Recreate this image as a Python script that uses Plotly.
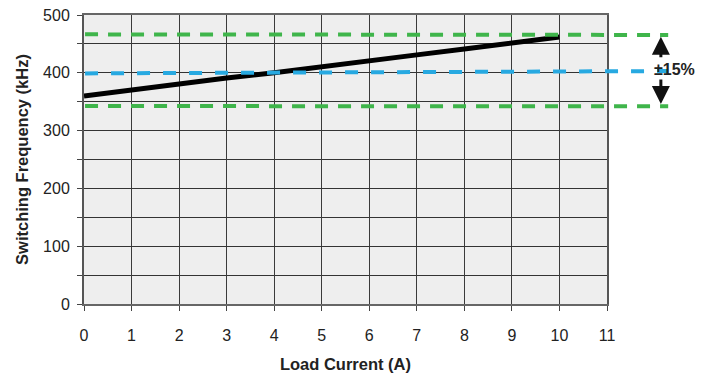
import plotly.graph_objects as go

# Data
load_current = [0, 1, 2, 3, 4, 5, 6, 7, 8, 9, 10]
switching_freq = [360, 371, 381, 391, 400, 411, 422, 431, 441, 451, 462]
nominal_freq = [399, 403]          # blue dashed (start, end)
upper_limit = [466.5, 465.5]       # green dashed +15%
lower_limit = [342.5, 342]         # green dashed -15%
x_ticks = list(range(0, 12))
y_ticks = [0, 100, 200, 300, 400, 500]
band_label = "±15%"

FONT = "Arial, Liberation Sans, sans-serif"

fig = go.Figure()
fig.add_trace(go.Scatter(
    x=load_current, y=switching_freq, mode="lines",
    line=dict(color="#000000", width=5), showlegend=False, hoverinfo="skip"))

# Dashed reference lines extending beyond plot area
x_end = 1.117
fig.add_shape(type="line", xref="paper", yref="y", x0=0.002, x1=x_end,
              y0=upper_limit[0], y1=upper_limit[1],
              line=dict(color="#3fb54b", width=4, dash="13px,10px"))
fig.add_shape(type="line", xref="paper", yref="y", x0=0.002, x1=x_end,
              y0=lower_limit[0], y1=lower_limit[1],
              line=dict(color="#3fb54b", width=4, dash="13px,10px"))
fig.add_shape(type="line", xref="paper", yref="y", x0=0.002, x1=x_end,
              y0=nominal_freq[0], y1=nominal_freq[1],
              line=dict(color="#27a9e1", width=4, dash="13px,13px"))

arrow_x = 1.103
fig.add_annotation(xref="paper", yref="y", x=arrow_x, y=upper_limit[1] - 3,
                   ax=0, ay=22, showarrow=True, arrowhead=2, arrowsize=1.2,
                   arrowwidth=3, arrowcolor="#111111", text="")
fig.add_annotation(xref="paper", yref="y", x=arrow_x, y=lower_limit[1] + 4,
                   ax=0, ay=-26, showarrow=True, arrowhead=2, arrowsize=1.2,
                   arrowwidth=3, arrowcolor="#111111", text="")
fig.add_annotation(xref="paper", yref="y", x=1.129, y=406, showarrow=False,
                   xanchor="center", yanchor="middle",
                   text="<b>" + band_label + "</b>",
                   font=dict(family=FONT, size=16, color="#222222"))

fig.update_layout(
    width=715, height=377,
    margin=dict(l=84, r=108, t=15, b=73, autoexpand=False),
    paper_bgcolor="white", plot_bgcolor="#eeeeee",
    font=dict(family=FONT, size=16, color="#222222"),
    showlegend=False,
    xaxis=dict(
        range=[0, 11], tickvals=x_ticks, ticks="outside", ticklen=5,
        tickcolor="#444", showgrid=True, gridcolor="#3a3a3a", gridwidth=1,
        showline=True, linecolor="#666666", linewidth=2, mirror=True,
        zeroline=False, ticklabelstandoff=11, automargin=False,
        title=dict(text="<b>Load Current (A)</b>",
                   font=dict(family=FONT, size=16.5, color="#222222"), standoff=15),
    ),
    yaxis=dict(
        range=[0, 500], tickvals=y_ticks, ticks="outside", ticklen=5,
        tickcolor="#444", showgrid=True, gridcolor="#333333", gridwidth=1,
        minor=dict(dtick=50, showgrid=True, gridcolor="#333333", ticks="outside",
                   ticklen=5, tickcolor="#444"),
        showline=True, linecolor="#555555", linewidth=2, mirror=True,
        zeroline=False, ticklabelstandoff=4, automargin=False,
        title=dict(text="<b>Switching Frequency (kHz)</b>",
                   font=dict(family=FONT, size=16.5, color="#222222"), standoff=10),
    ),
)

fig.write_html("out.html", post_script="document.body.style.margin='0';",
               config={"displayModeBar": False})
